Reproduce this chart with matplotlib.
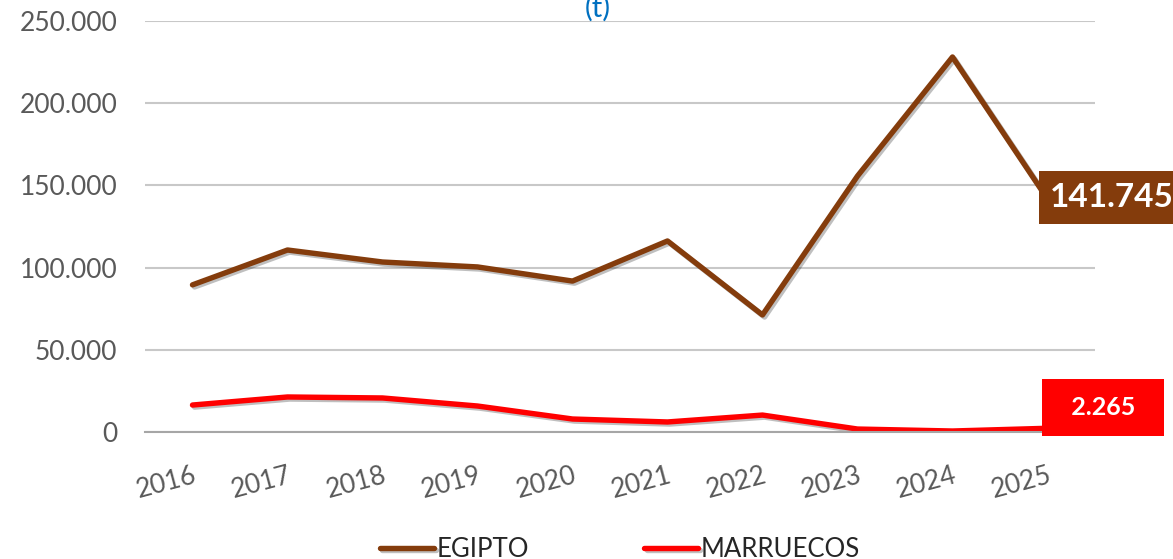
import numpy as np
import matplotlib.pyplot as plt
import matplotlib.patheffects as pe
from matplotlib.ticker import FuncFormatter

plt.rcParams['font.family'] = ['Lato', 'DejaVu Sans']

years = ['2016', '2017', '2018', '2019', '2020', '2021', '2022', '2023', '2024', '2025']
egipto = [89500, 110700, 103400, 100400, 91800, 116200, 71200, 155700, 228100, 141745]
marruecos = [16400, 21300, 20700, 15800, 7900, 6100, 10300, 1800, 600, 2265]

c_egipto = '#843C0C'
c_marr = '#FF0000'

def miles(v, pos=None):
    return '{:,.0f}'.format(v).replace(',', '.')

fig = plt.figure(figsize=(11.73, 5.59), dpi=100)
ax = fig.add_axes([145/1173, 1 - 432/559, (1095-145)/1173, (432-21)/559])

x = np.arange(len(years))
sombra = [pe.SimpleLineShadow(offset=(1.5, -1.5), alpha=0.25, shadow_color='black'), pe.Normal()]
ax.plot(x, egipto, color=c_egipto, lw=3.9, solid_capstyle='round', label='EGIPTO', path_effects=sombra)
ax.plot(x, marruecos, color=c_marr, lw=3.9, solid_capstyle='round', label='MARRUECOS', path_effects=sombra)

ax.set_ylim(0, 250000)
ax.set_xlim(-0.5, len(years) - 0.5)
ax.set_yticks(np.arange(0, 250001, 50000))
ax.yaxis.set_major_formatter(FuncFormatter(miles))
ax.set_xticks(x)
ax.set_xticklabels(years, rotation=15, ha='right', rotation_mode='anchor')
ax.tick_params(axis='both', length=0, labelsize=19, labelcolor='#595959')
ax.tick_params(axis='y', pad=20)
ax.tick_params(axis='x', pad=22)
ax.grid(axis='y', color='#C8C8C8', lw=1.5)
ax.set_axisbelow(True)
for s in ['top', 'right', 'left']:
    ax.spines[s].set_visible(False)
ax.spines['bottom'].set_color('#A6A6A6')
ax.spines['bottom'].set_linewidth(1.5)

# etiquetas del ultimo valor
ax.annotate(miles(egipto[-1]), (x[-1], egipto[-1]), xytext=(2, 1), textcoords='offset points',
            ha='left', va='center', color='white', fontsize=24, fontweight='bold',
            bbox=dict(boxstyle='square,pad=0.35', fc=c_egipto, ec='none'), annotation_clip=False)
ax.annotate('  ' + miles(marruecos[-1]) + '  ', (x[-1], marruecos[-1]), xytext=(8, 15), textcoords='offset points',
            ha='left', va='center', color='white', fontsize=18, fontweight='bold',
            bbox=dict(boxstyle='square,pad=0.68', fc=c_marr, ec='none'), annotation_clip=False)

fig.text(598/1173, 1 - 8/559, '(t)', color='#0070C0', fontsize=21, ha='center', va='center')

ax.legend(loc='upper center', bbox_to_anchor=(0.5, -0.2), ncol=2, frameon=False,
          fontsize=18.5, handlelength=2.1, handletextpad=0.1, columnspacing=4.5,
          labelcolor='#262626')

fig.savefig('out.png', dpi=100)
